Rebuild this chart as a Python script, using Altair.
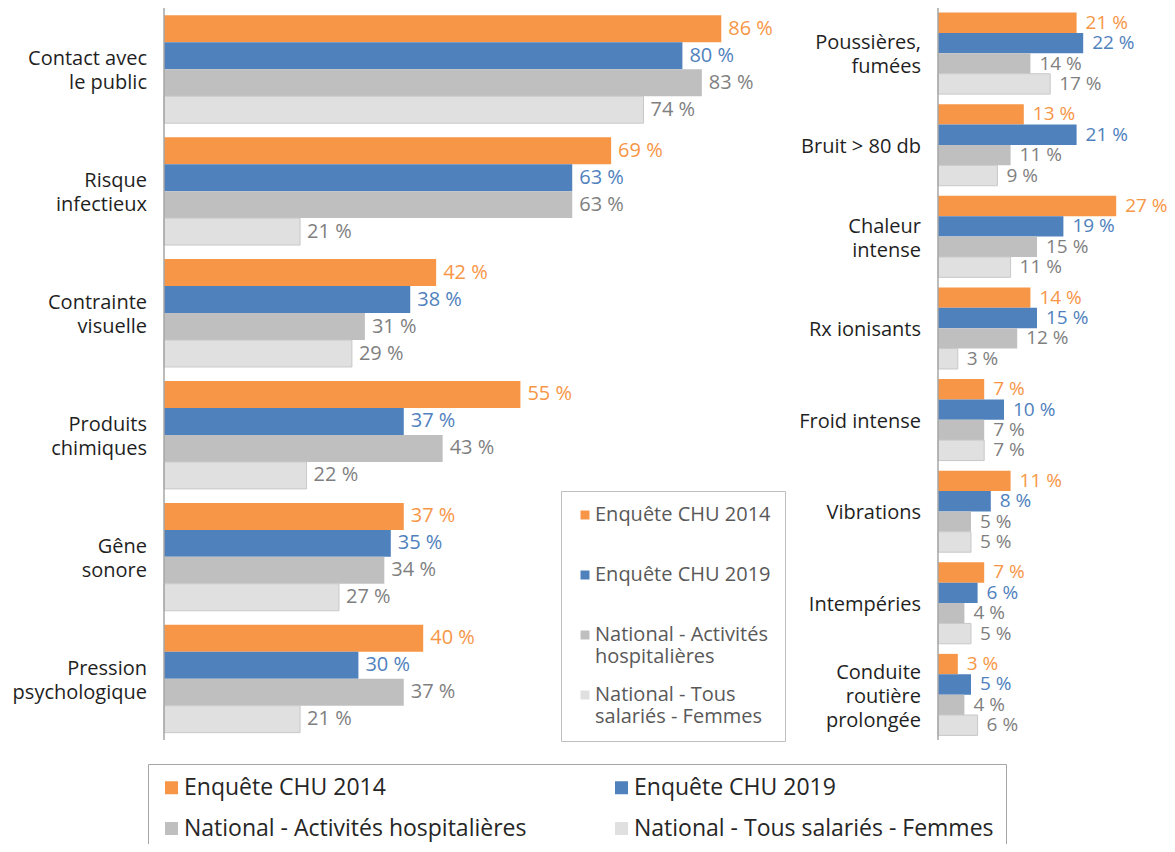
import altair as alt
import pandas as pd

FONT = "Open Sans"

series = [
    "Enquête CHU 2014",
    "Enquête CHU 2019",
    "National - Activités hospitalières",
    "National - Tous salariés - Femmes",
]
bar_colors = ["#F79646", "#4F81BD", "#BFBFBF", "#E0E0E0"]
text_colors = ["#F79646", "#4F81BD", "#7F7F7F", "#7F7F7F"]

left_cats = [
    "Contact avec|le public",
    "Risque|infectieux",
    "Contrainte|visuelle",
    "Produits|chimiques",
    "Gêne|sonore",
    "Pression|psychologique",
]
left_chu2014 = [86, 69, 42, 55, 37, 40]
left_chu2019 = [80, 63, 38, 37, 35, 30]
left_nat_hosp = [83, 63, 31, 43, 34, 37]
left_nat_fem = [74, 21, 29, 22, 27, 21]

right_cats = [
    "Poussières,|fumées",
    "Bruit > 80 db",
    "Chaleur|intense",
    "Rx ionisants",
    "Froid intense",
    "Vibrations",
    "Intempéries",
    "Conduite|routière|prolongée",
]
right_chu2014 = [21, 13, 27, 14, 7, 11, 7, 3]
right_chu2019 = [22, 21, 19, 15, 10, 8, 6, 5]
right_nat_hosp = [14, 11, 15, 12, 7, 5, 4, 4]
right_nat_fem = [17, 9, 11, 3, 7, 5, 5, 6]

LINE_H = 24


def panel_df(cats, lists):
    rows = []
    for s, vals in zip(series, lists):
        for c, v in zip(cats, vals):
            rows.append({"cat": c, "series": s, "value": v, "label": f"{v} %"})
    return pd.DataFrame(rows)


left_df = panel_df(left_cats, [left_chu2014, left_chu2019, left_nat_hosp, left_nat_fem])
right_df = panel_df(right_cats, [right_chu2014, right_chu2019, right_nat_hosp, right_nat_fem])

legend_a = alt.Legend(
    orient="none", legendX=553, legendY=483, title=None, direction="vertical",
    symbolType="square", symbolSize=80, symbolStrokeWidth=0,
    labelFontSize=20, labelFont=FONT, labelColor="#595959", labelLimit=400,
    labelOffset=0, strokeColor="#BFBFBF", fillColor="white", padding=14,
    rowPadding=18, gridAlign="all", columns=1,
    labelExpr=(
        "datum.label == 'National - Activités hospitalières' ? ['National - Activités', 'hospitalières'] : "
        "datum.label == 'National - Tous salariés - Femmes' ? ['National - Tous', 'salariés - Femmes'] : datum.label"
    ),
)
legend_b = alt.Legend(
    orient="none", legendX=140, legendY=756, title=None, direction="horizontal",
    symbolType="square", symbolSize=169, symbolStrokeWidth=0,
    labelFontSize=23, labelFont=FONT, labelColor="#262626", labelLimit=600,
    labelOffset=1, strokeColor="#A6A6A6", fillColor="white", padding=12,
    rowPadding=17, columnPadding=83, columns=2, gridAlign="each",
)


def panel(df, cats, x_range, pad_in, pad_out, axis_x, label_x, val_font, dx, legend):
    yscale = alt.Scale(domain=cats, range=[0, 732], paddingInner=pad_in, paddingOuter=pad_out)
    xscale = alt.Scale(domain=[0, 100], range=x_range, nice=False, zero=True)
    yoff = alt.YOffset("series:N", scale=alt.Scale(domain=series))
    base = alt.Chart(df)
    bars = base.mark_bar(strokeWidth=1).encode(
        x=alt.X("value:Q", scale=xscale, axis=None),
        y=alt.Y("cat:N", scale=yscale, axis=None),
        yOffset=yoff,
        color=alt.Color("series:N", scale=alt.Scale(domain=series, range=bar_colors), legend=legend),
        stroke=alt.condition(alt.datum.series == series[3], alt.value("#C8C8C8"), alt.value("transparent")),
    )
    labels = base.mark_text(align="left", baseline="middle", dx=dx, fontSize=val_font, font=FONT).encode(
        x=alt.X("value:Q", scale=xscale, axis=None),
        y=alt.Y("cat:N", scale=yscale, axis=None),
        yOffset=yoff,
        text="label:N",
        fill=alt.Fill("series:N", scale=alt.Scale(domain=series, range=text_colors), legend=None),
    )
    cat_df = pd.DataFrame({"cat": cats, "n": [c.count("|") + 1 for c in cats]})
    layers = [bars, labels]
    for n in sorted(set(cat_df["n"])):
        layers.append(
            alt.Chart(cat_df).transform_filter(alt.datum.n == n).mark_text(
                align="right", baseline="middle", lineBreak="|", fontSize=20, font=FONT,
                color="#1F1F1F", lineHeight=LINE_H, dy=-(n - 1) * LINE_H / 2 + 2,
            ).encode(
                y=alt.Y("cat:N", scale=yscale, axis=None),
                x=alt.value(label_x),
                text="cat:N",
            )
        )
    axis_line = alt.Chart(pd.DataFrame({"a": [0]})).mark_rule(color="#A6A6A6", strokeWidth=1.5).encode(
        x=alt.value(axis_x), y=alt.value(0), y2=alt.value(732)
    )
    layers.append(axis_line)
    return alt.layer(*layers)


left = panel(left_df, left_cats, [156, 804], 0.115, 0.06, 156, 139, 20, 7, legend_a)
right = panel(right_df, right_cats, [930, 1590], 0.11, 0.05, 930, 913, 19, 9, legend_b)

chart = (
    alt.layer(left, right)
    .resolve_scale(x="independent", y="independent", yOffset="independent", color="independent")
    .properties(width=1159, height=836, autosize=alt.AutoSizeParams(type="none"), padding=0)
    .configure_view(stroke=None)
)

chart.save("out.html", embed_options={"renderer": "svg", "actions": False})
